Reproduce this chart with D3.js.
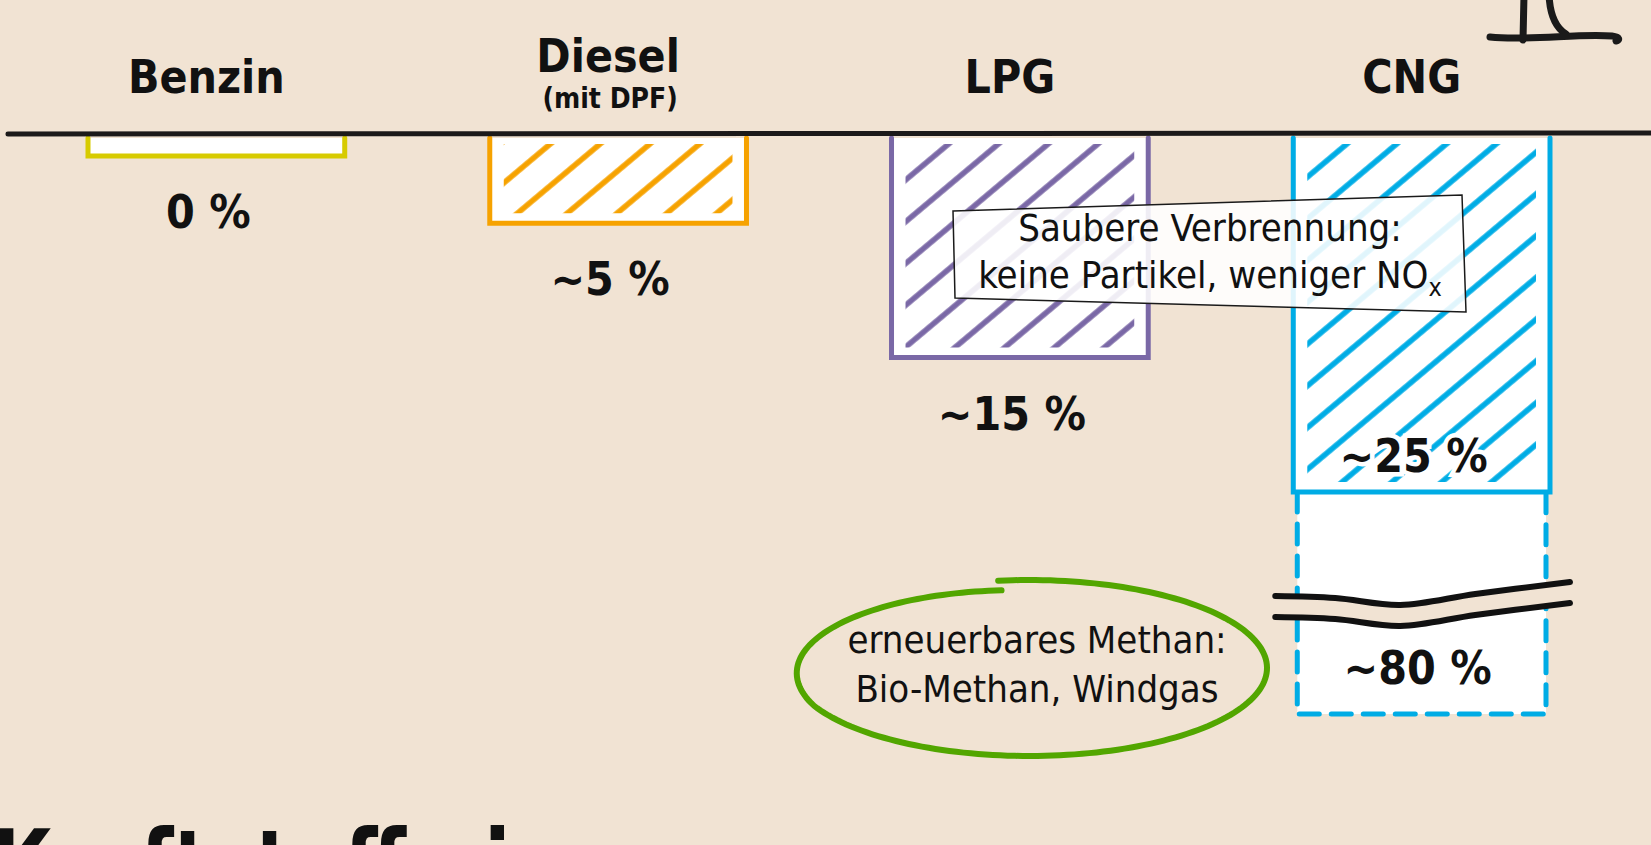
<!DOCTYPE html>
<html>
<head>
<meta charset="utf-8">
<script src="https://cdn.jsdelivr.net/npm/d3@7"></script>
<style>
html, body { margin: 0; padding: 0; background: #f1e3d3; overflow: hidden; }
svg { display: block; }
text { font-family: "DejaVu Sans Condensed", "DejaVu Sans", sans-serif; font-stretch: condensed; fill: #111; }
</style>
</head>
<body>
<script>
// Partikel-/Schadstoffminderung je Kraftstoff
var categories = ["Benzin", "Diesel", "LPG", "CNG"];
var subLabels = ["", "(mit DPF)", "", ""];
var reduction = [0, 5, 15, 25];
var valueLabels = ["0 %", "~5 %", "~15 %", "~25 %"];
var barColors = ["#d7cb00", "#f6a200", "#7a68a6", "#00ace5"];
var hatched = [false, true, true, true];
var labelInside = [false, false, false, true];
var renewableValue = 80;
var renewableLabel = "~80 %";

var width = 1651,
    height = 845,
    axisY = 134,
    barTop = 138;

var svg = d3.select("body").append("svg")
    .attr("width", width)
    .attr("height", height)

svg.append("rect").attr("width", width).attr("height", height).attr("fill", "#f1e3d3")

var x = d3.scaleBand().domain(categories).range([88, 1550]).paddingInner(0.361)
var y = d3.scaleLinear().domain([0, 25, 80]).range([156, 492, 714])
var bw = x.bandwidth()

var defs = svg.append("defs")
categories.forEach(function(c, i) {
  var p = defs.append("pattern")
    .attr("id", "hatch" + i)
    .attr("patternUnits", "userSpaceOnUse")
    .attr("width", 32).attr("height", 32)
    .attr("patternTransform", "rotate(50)")
  p.append("line")
    .attr("x1", 16).attr("y1", -5).attr("x2", 16).attr("y2", 37)
    .attr("stroke", barColors[i]).attr("stroke-width", 5.5)
  defs.append("clipPath").attr("id", "clip" + i)
    .append("rect")
    .attr("x", x(c) + 14).attr("y", barTop + 6)
    .attr("width", bw - 28).attr("height", Math.max(0, y(reduction[i]) - barTop - 16))
})

// erneuerbares Methan: gestrichelte Verlaengerung des CNG-Balkens
var cx0 = x("CNG") + 4, cx1 = x("CNG") + bw - 4
svg.append("rect")
  .attr("x", cx0).attr("y", y(25)).attr("width", cx1 - cx0).attr("height", y(renewableValue) - y(25))
  .attr("fill", "#fff")
svg.append("path")
  .attr("d", "M" + cx0 + "," + y(25) + "L" + cx0 + "," + y(renewableValue) + "L" + cx1 + "," + y(renewableValue) + "L" + cx1 + "," + y(25))
  .attr("fill", "none")
  .attr("stroke", barColors[3])
  .attr("stroke-width", 5)
  .attr("stroke-dasharray", "20 12")
  .attr("stroke-linecap", "round")

// Balken
var bars = svg.selectAll(".bar").data(categories).enter().append("g").attr("class", "bar")
bars.append("rect")
  .attr("x", function(d) { return x(d) })
  .attr("y", barTop)
  .attr("width", bw)
  .attr("height", function(d, i) { return y(reduction[i]) - barTop })
  .attr("fill", "#fff")
bars.filter(function(d, i) { return hatched[i] }).append("rect")
  .attr("x", function(d) { return x(d) })
  .attr("y", barTop)
  .attr("width", bw)
  .attr("height", function(d) { var i = categories.indexOf(d); return y(reduction[i]) - barTop })
  .attr("fill", function(d) { return "url(#hatch" + categories.indexOf(d) + ")" })
  .attr("clip-path", function(d) { return "url(#clip" + categories.indexOf(d) + ")" })
bars.append("path")
  .attr("d", function(d, i) {
    var yb = y(reduction[i])
    return "M" + x(d) + "," + barTop + "L" + x(d) + "," + yb + "L" + (x(d) + bw) + "," + yb + "L" + (x(d) + bw) + "," + barTop
  })
  .attr("fill", "none")
  .attr("stroke", function(d, i) { return barColors[i] })
  .attr("stroke-width", 5)
  .attr("stroke-linecap", "round")

// Achse
svg.append("path")
  .attr("d", "M8," + axisY + "L" + width + "," + (axisY - 1))
  .attr("stroke", "#1c1a1a").attr("stroke-width", 5).attr("stroke-linecap", "round")

// Kategorien
bars.append("text")
  .attr("x", function(d) { return x(d) + bw / 2 - 10 })
  .attr("y", function(d, i) { return subLabels[i] ? 72 : 93 })
  .attr("text-anchor", "middle")
  .attr("font-size", 46)
  .attr("font-weight", "bold")
  .text(function(d) { return d })
bars.filter(function(d, i) { return subLabels[i] }).append("text")
  .attr("x", function(d) { return x(d) + bw / 2 - 8 })
  .attr("y", 108)
  .attr("text-anchor", "middle")
  .attr("font-size", 28)
  .attr("font-weight", "bold")
  .text(function(d) { return subLabels[categories.indexOf(d)] })

// Werte
bars.append("text")
  .attr("x", function(d) { return x(d) + bw / 2 - 8 })
  .attr("y", function(d, i) { return labelInside[i] ? y(reduction[i]) - 20 : y(reduction[i]) + 72 })
  .attr("text-anchor", "middle")
  .attr("font-size", 46)
  .attr("font-weight", "bold")
  .attr("stroke", function(d, i) { return labelInside[i] ? "#fff" : "none" })
  .attr("stroke-width", 9)
  .attr("paint-order", "stroke")
  .text(function(d, i) { return valueLabels[i] })

// Achsenbruch
var bx0 = x("CNG") - 18, bx1 = x("CNG") + bw + 20
var wave = [[bx0, 596], [bx0 + 60, 598], [bx0 + 125, 605], [bx0 + 200, 594], [bx1, 582]]
svg.append("path")
  .attr("d", d3.area().x(function(p) { return p[0] }).y0(function(p) { return p[1] + 21 }).y1(function(p) { return p[1] }).curve(d3.curveCatmullRom)(wave))
  .attr("fill", "#f1e3d3")
;[0, 21].forEach(function(off) {
  svg.append("path")
    .attr("d", d3.line().x(function(p) { return p[0] }).y(function(p) { return p[1] + off }).curve(d3.curveCatmullRom)(wave))
    .attr("fill", "none").attr("stroke", "#111").attr("stroke-width", 6).attr("stroke-linecap", "round")
})

svg.append("text")
  .attr("x", x("CNG") + bw / 2 - 4)
  .attr("y", y(renewableValue) - 30)
  .attr("text-anchor", "middle")
  .attr("font-size", 46)
  .attr("font-weight", "bold")
  .text(renewableLabel)

// Hinweiskasten
svg.append("path")
  .attr("d", "M953,211L1462,195L1466,312L955,298Z")
  .attr("fill", "#fff").attr("fill-opacity", 0.88)
  .attr("stroke", "#1a1a1a").attr("stroke-width", 1.5)
svg.append("text")
  .attr("x", 1210).attr("y", 241)
  .attr("text-anchor", "middle").attr("font-size", 38)
  .text("Saubere Verbrennung:")
var t2 = svg.append("text")
  .attr("x", 1210).attr("y", 288)
  .attr("text-anchor", "middle").attr("font-size", 38)
t2.append("tspan").text("keine Partikel, weniger NO")
t2.append("tspan").attr("font-size", 25).attr("dy", 8).text("x")

// Ellipse um erneuerbares Methan
var ecx = 1029, ecy = 668, erx = 238, ery = 88
var epts = d3.range(0, 1.0001, 0.005).map(function(t) {
  var a = -Math.PI / 2 - 0.13 + t * 2 * Math.PI
  var s = t < 0.7 ? 1 : 1 - 0.11 * ((t - 0.7) / 0.3)
  return [ecx + erx * s * Math.cos(a), ecy + ery * s * Math.sin(a)]
})
svg.append("path")
  .attr("d", d3.line()(epts))
  .attr("fill", "none").attr("stroke", "#52a600").attr("stroke-width", 6).attr("stroke-linecap", "round")
svg.append("text")
  .attr("x", 1037).attr("y", 653)
  .attr("text-anchor", "middle").attr("font-size", 38)
  .text("erneuerbares Methan:")
svg.append("text")
  .attr("x", 1037).attr("y", 702)
  .attr("text-anchor", "middle").attr("font-size", 38)
  .text("Bio-Methan, Windgas")

// Zeichnung oben rechts (angeschnitten)
;["M1524,-5L1523,40", "M1549,-5C1550,15 1556,28 1566,34", "M1490,37C1530,41 1580,33 1612,36C1620,37 1620,40 1616,41"].forEach(function(d) {
  svg.append("path").attr("d", d)
    .attr("fill", "none").attr("stroke", "#1a1a1a").attr("stroke-width", 7).attr("stroke-linecap", "round")
})

// Titel unten (angeschnitten)
svg.append("text")
  .attr("transform", "translate(-8,905) scale(0.8,1)")
  .attr("font-size", 106).attr("font-weight", "bold")
  .text("Kraftstoffe im")
</script>
</body>
</html>
